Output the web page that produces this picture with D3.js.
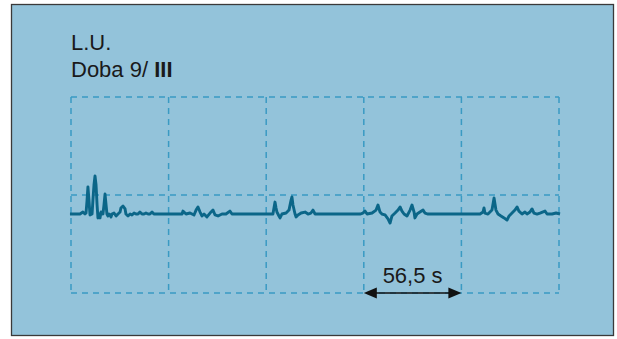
<!DOCTYPE html>
<html>
<head>
<meta charset="utf-8">
<script src="https://cdn.jsdelivr.net/npm/d3@7/dist/d3.min.js"></script>
<style>
  html, body { margin: 0; padding: 0; background: #ffffff; }
  svg { display: block; }
  text { font-family: "Liberation Sans", Arial, Helvetica, sans-serif; fill: #1a1a1a; }
</style>
</head>
<body>
<svg id="chart" width="617" height="339"></svg>
<script>
// Recording: time (s) and amplitude of the trace
const time = [
  -0.6, 5.2, 6.9, 8.1, 8.7, 9.3, 9.8, 10.4, 11.0, 12.2, 12.7, 13.3, 13.9, 14.5, 15.1, 15.6, 16.2, 16.8, 17.4,
  18.5, 19.1, 19.7, 20.3, 20.8, 21.4, 22.0, 22.6, 23.2, 23.7, 24.9, 26.1, 27.2, 28.4, 28.9, 30.1, 31.3, 31.8,
  33.0, 34.2, 35.3, 36.5, 37.6, 38.8, 39.9, 41.1, 42.3, 43.4, 44.6, 45.7, 46.9, 48.0,
  64.3, 64.8, 66.6, 68.9, 71.2, 72.4, 73.5, 74.7, 75.8, 77.0, 78.7, 80.5, 82.2, 83.4, 85.1, 87.4, 89.7, 92.0, 93.2,
  116.9, 118.1, 118.7, 119.2, 120.4, 121.0, 122.1, 124.5, 126.2, 127.4, 127.9, 128.5, 129.7, 130.3, 131.4, 133.2,
  135.5, 137.2, 138.9, 140.1, 141.3,
  167.3, 169.0, 170.2, 171.4, 174.3, 176.6, 177.7, 178.9, 180.0, 181.8, 183.5, 184.7, 185.8, 187.6, 189.3, 190.5,
  191.6, 192.8, 194.5, 196.3, 197.4, 198.6, 199.1, 200.3, 202.0, 203.8, 204.9, 206.7,
  236.8, 238.5, 239.1, 239.6, 241.4, 243.7, 244.9, 246.0, 247.2, 248.9, 250.7, 252.4, 253.6, 255.3, 257.0, 258.2,
  259.3, 261.1, 262.8, 264.0, 265.7, 266.9, 268.0, 269.8, 271.5, 274.4, 275.6, 278.5, 280.8, 283.1
];
const amplitude = [
  40.3, 40.3, 41.3, 40.3, 40.8, 47.4, 54.1, 47.4, 39.8, 40.3, 47.4, 55.1, 59.7, 55.1, 44.9, 38.3, 40.3, 38.3, 41.3,
  40.3, 44.9, 50.5, 44.9, 40.3, 39.3, 40.3, 39.8, 38.8, 40.3, 40.8, 39.3, 40.3, 41.3, 43.4, 44.4, 42.9, 40.3,
  39.3, 40.3, 39.8, 40.8, 40.3, 40.3, 41.3, 40.3, 40.3, 40.8, 40.3, 40.3, 41.3, 40.3,
  40.3, 41.8, 40.3, 40.8, 39.8, 42.3, 43.9, 41.3, 39.3, 40.3, 38.8, 40.8, 42.3, 39.8, 39.3, 40.3, 40.3, 41.8, 40.3,
  40.3, 46.4, 43.4, 41.3, 39.3, 38.3, 40.3, 40.8, 42.3, 47.4, 49.0, 44.9, 40.3, 38.8, 39.8, 40.8,
  41.3, 40.3, 40.8, 42.3, 40.3,
  40.3, 40.8, 41.8, 40.3, 40.8, 42.3, 44.9, 41.3, 40.3, 39.8, 37.8, 35.7, 39.3, 40.8, 42.3, 43.9,
  41.8, 40.3, 39.3, 42.3, 44.9, 41.3, 38.3, 40.3, 41.3, 42.3, 40.8, 40.3,
  40.3, 41.3, 43.4, 40.8, 40.3, 42.3, 48.5, 42.3, 40.3, 39.3, 38.3, 37.2, 39.3, 40.8, 42.3, 43.9,
  41.8, 40.3, 41.3, 40.3, 41.3, 42.9, 40.8, 40.3, 40.8, 41.8, 40.3, 40.3, 40.8, 40.3
];
// Grid divisions: one time division = 56.5 s, amplitude gridlines
const timeTicks = [0, 56.5, 113, 169.5, 226, 282.5];
const ampTicks = [0, 50, 100];
const titleLines = ["L.U.", "Doba 9/ "];
const titleBold = "III";
const spanLabel = "56,5 s";
const spanFrom = 169.5, spanTo = 226;

const svg = d3.select("#chart");

// panel
svg.append("rect")
  .attr("x", 11.5).attr("y", 4.5).attr("width", 602).attr("height", 331)
  .attr("fill", "#93c3da").attr("stroke", "#3a3a3a").attr("stroke-width", 1.3);

const x = d3.scaleLinear().domain([0, 282.5]).range([71, 559]);
const y = d3.scaleLinear().domain([0, 100]).range([293, 97]);

// dashed grid
const grid = svg.append("g")
  .attr("fill", "none").attr("stroke", "#3a9ac3").attr("stroke-width", 1.5)
  .attr("stroke-dasharray", "6,5");
grid.selectAll("line.v").data(timeTicks).join("line").attr("class", "v")
  .attr("x1", d => x(d)).attr("x2", d => x(d))
  .attr("y1", y(100)).attr("y2", y(0));
grid.selectAll("line.h").data(ampTicks).join("line").attr("class", "h")
  .attr("x1", x(0)).attr("x2", x(282.5))
  .attr("y1", d => y(d)).attr("y2", d => y(d));

// trace
const pts = time.map((t, i) => [t, amplitude[i]]);
svg.append("path")
  .datum(pts)
  .attr("fill", "none").attr("stroke", "#0b6688").attr("stroke-width", 2.9)
  .attr("stroke-linejoin", "round")
  .attr("d", d3.line().x(d => x(d[0])).y(d => y(d[1])));

// title
svg.append("text").attr("x", 71).attr("y", 50).attr("font-size", 22).text(titleLines[0]);
const t2 = svg.append("text").attr("x", 71).attr("y", 77).attr("font-size", 22);
t2.append("tspan").text(titleLines[1]);
t2.append("tspan").attr("font-weight", "bold").text(titleBold);

// duration arrow
const ay = y(0);
const ax1 = x(spanFrom), ax2 = x(spanTo);
svg.append("line").attr("x1", ax1 + 6).attr("x2", ax2 - 6).attr("y1", ay).attr("y2", ay)
  .attr("stroke", "#111").attr("stroke-width", 1.7);
svg.append("path").attr("fill", "#111")
  .attr("d", `M${ax1},${ay} L${ax1 + 13},${ay - 5.5} L${ax1 + 13},${ay + 5.5} Z`);
svg.append("path").attr("fill", "#111")
  .attr("d", `M${ax2},${ay} L${ax2 - 13},${ay - 5.5} L${ax2 - 13},${ay + 5.5} Z`);
svg.append("text").attr("x", (ax1 + ax2) / 2).attr("y", 283).attr("text-anchor", "middle")
  .attr("font-size", 22).text(spanLabel);
</script>
</body>
</html>
